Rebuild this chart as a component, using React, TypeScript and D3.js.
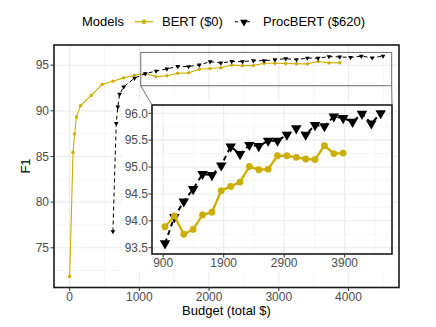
import React from 'react';
import * as d3 from 'd3';

// budgets (total $) and F1
const bertBudget = [0, 48, 71, 96, 155, 310, 465, 620, 775, 930, 1085, 1240, 1395, 1550, 1705, 1860, 2015, 2170, 2325, 2480, 2635, 2790, 2945, 3100, 3255, 3410, 3565, 3720, 3875];
const bertF1 = [71.86, 85.46, 87.46, 89.32, 90.55, 91.69, 92.89, 93.25, 93.61, 93.89, 94.09, 93.75, 93.84, 94.11, 94.16, 94.56, 94.64, 94.72, 95.01, 94.95, 94.96, 95.21, 95.21, 95.18, 95.15, 95.14, 95.4, 95.25, 95.26];
const procBudget = [620, 668, 691, 716, 775, 930, 1085, 1240, 1395, 1550, 1705, 1860, 2015, 2170, 2325, 2480, 2635, 2790, 2945, 3100, 3255, 3410, 3565, 3720, 3875, 4030, 4185, 4340, 4495];
const procF1 = [76.78, 88.63, 90.44, 91.83, 92.63, 93.58, 94.07, 94.36, 94.59, 94.87, 94.85, 95.03, 95.38, 95.24, 95.41, 95.39, 95.49, 95.49, 95.6, 95.72, 95.6, 95.78, 95.76, 95.94, 95.91, 95.84, 95.99, 95.81, 96.0];

const mainXTicks = [0, 1000, 2000, 3000, 4000];
const mainXMinor = [500, 1500, 2500, 3500, 4500];
const mainYTicks = [75, 80, 85, 90, 95];
const mainYMinor = [72.5, 77.5, 82.5, 87.5, 92.5];
const insetXTicks = [900, 1900, 2900, 3900];
const insetXMinor = [1400, 2400, 3400, 4400];
const insetYTicks = [93.5, 94.0, 94.5, 95.0, 95.5, 96.0];
const insetYMinor = [93.75, 94.25, 94.75, 95.25, 95.75];
const insetFrom = 900;
const zoomBudget = [1020, 4620];
const zoomF1 = [92.75, 96.4];

const GOLD = '#CDAD00';
const FONT = '"Liberation Sans", Arial, Helvetica, sans-serif';

const bert = bertBudget.map((b, i) => ({ b, f: bertF1[i] }));
const proc = procBudget.map((b, i) => ({ b, f: procF1[i] }));

const tri = (size: number) => d3.symbol().type(d3.symbolTriangle).size(size)() as string;

export default function App() {
    const x = d3.scaleLinear().domain([-225, 4725]).range([54, 399]);
    const y = d3.scaleLinear().domain([70.65, 97.21]).range([287.5, 45]);

    const ix = d3.scaleLinear().domain([715, 4682]).range([152, 392]);
    const iy = d3.scaleLinear().domain([93.383, 96.154]).range([254, 105]);

    const line = d3.line<{ b: number; f: number }>().x(d => x(d.b)).y(d => y(d.f));
    const iline = d3.line<{ b: number; f: number }>().x(d => ix(d.b)).y(d => iy(d.f));

    const bertIn = bert.filter(d => d.b >= insetFrom);
    const procIn = proc.filter(d => d.b >= insetFrom);

    const [x0, x1] = x.range();
    const [y0, y1] = y.range();
    const [ix0, ix1] = ix.range();
    const [iy0, iy1] = iy.range();

    const zx0 = x(zoomBudget[0]), zx1 = x(zoomBudget[1]);
    const zy0 = y(zoomF1[1]), zy1 = y(zoomF1[0]);

    return (
        <svg width={436} height={327} style={{ position: 'absolute', left: 0, top: 0, background: '#fff' }} fontFamily={FONT}>
            {/* legend */}
            <g>
                <text x={82} y={26.3} fontSize={13} fill="#000">Models</text>
                <line x1={135} x2={153} y1={21.7} y2={21.7} stroke={GOLD} strokeWidth={1.2} />
                <circle cx={144} cy={21.7} r={2.3} fill={GOLD} />
                <text x={162} y={26.3} fontSize={13} fill="#000">BERT ($0)</text>
                <line x1={235} x2={253} y1={21.7} y2={21.7} stroke="#000" strokeWidth={1.1} strokeDasharray="3,3" />
                <path d={tri(26)} transform={`translate(244,22) rotate(180)`} fill="#000" />
                <text x={263} y={26.3} fontSize={13} fill="#000">ProcBERT ($620)</text>
            </g>

            {/* main panel grid */}
            <rect x={x0} y={y1} width={x1 - x0} height={y0 - y1} fill="#fff" />
            {mainXMinor.map(t => <line key={'xm' + t} x1={x(t)} x2={x(t)} y1={y1} y2={y0} stroke="#F2F2F2" strokeWidth={0.6} />)}
            {mainYMinor.map(t => <line key={'ym' + t} x1={x0} x2={x1} y1={y(t)} y2={y(t)} stroke="#F2F2F2" strokeWidth={0.6} />)}
            {mainXTicks.map(t => <line key={'xg' + t} x1={x(t)} x2={x(t)} y1={y1} y2={y0} stroke="#EBEBEB" strokeWidth={1.1} />)}
            {mainYTicks.map(t => <line key={'yg' + t} x1={x0} x2={x1} y1={y(t)} y2={y(t)} stroke="#EBEBEB" strokeWidth={1.1} />)}

            {/* main series */}
            <path d={line(bert) as string} fill="none" stroke={GOLD} strokeWidth={1.1} />
            {bert.map((d, i) => <circle key={'bm' + i} cx={x(d.b)} cy={y(d.f)} r={1.7} fill={GOLD} />)}
            <path d={line(proc) as string} fill="none" stroke="#000" strokeWidth={1} strokeDasharray="4,3" />
            {proc.map((d, i) => <path key={'pm' + i} d={tri(10)} transform={`translate(${x(d.b)},${y(d.f)}) rotate(180)`} fill="#000" />)}

            {/* zoom box */}
            <rect x={zx0} y={zy0} width={zx1 - zx0} height={zy1 - zy0} fill="none" stroke="#6E6E6E" strokeWidth={1} />

            {/* main border + axes */}
            <rect x={x0} y={y1} width={x1 - x0} height={y0 - y1} fill="none" stroke="#1A1A1A" strokeWidth={1.6} />
            {mainXTicks.map(t => (
                <g key={'xt' + t}>
                    <line x1={x(t)} x2={x(t)} y1={y0} y2={y0 + 3.5} stroke="#333" strokeWidth={1} />
                    <text x={x(t)} y={301} fontSize={12} fill="#4D4D4D" textAnchor="middle">{t}</text>
                </g>
            ))}
            {mainYTicks.map(t => (
                <g key={'yt' + t}>
                    <line x1={x0 - 3.5} x2={x0} y1={y(t)} y2={y(t)} stroke="#333" strokeWidth={1} />
                    <text x={49} y={y(t) + 4.3} fontSize={12} fill="#4D4D4D" textAnchor="end">{t}</text>
                </g>
            ))}
            <text x={226.5} y={314.5} fontSize={13} fill="#000" textAnchor="middle">Budget (total $)</text>
            <text transform={`translate(30,166) rotate(-90)`} fontSize={13} fill="#000" textAnchor="middle">F1</text>

            {/* inset */}
            <rect x={122} y={102} width={272} height={171} fill="#fff" />
            {insetXMinor.map(t => <line key={'ixm' + t} x1={ix(t)} x2={ix(t)} y1={iy1} y2={iy0} stroke="#F2F2F2" strokeWidth={0.6} />)}
            {insetYMinor.map(t => <line key={'iym' + t} x1={ix0} x2={ix1} y1={iy(t)} y2={iy(t)} stroke="#F2F2F2" strokeWidth={0.6} />)}
            {insetXTicks.map(t => <line key={'ixg' + t} x1={ix(t)} x2={ix(t)} y1={iy1} y2={iy0} stroke="#EBEBEB" strokeWidth={1.1} />)}
            {insetYTicks.map(t => <line key={'iyg' + t} x1={ix0} x2={ix1} y1={iy(t)} y2={iy(t)} stroke="#EBEBEB" strokeWidth={1.1} />)}

            <path d={iline(procIn) as string} fill="none" stroke="#000" strokeWidth={2} strokeDasharray="5,4" />
            {procIn.map((d, i) => <path key={'pi' + i} d={tri(48)} transform={`translate(${ix(d.b)},${iy(d.f)}) rotate(180)`} fill="#000" />)}
            <path d={iline(bertIn) as string} fill="none" stroke={GOLD} strokeWidth={2.3} />
            {bertIn.map((d, i) => <circle key={'bi' + i} cx={ix(d.b)} cy={iy(d.f)} r={3.4} fill={GOLD} />)}

            <rect x={ix0} y={iy1} width={ix1 - ix0} height={iy0 - iy1} fill="none" stroke="#1A1A1A" strokeWidth={1.6} />
            {insetXTicks.map(t => (
                <g key={'ixt' + t}>
                    <line x1={ix(t)} x2={ix(t)} y1={iy0} y2={iy0 + 3.5} stroke="#333" strokeWidth={1} />
                    <text x={ix(t)} y={267} fontSize={12} fill="#4D4D4D" textAnchor="middle">{t}</text>
                </g>
            ))}
            {insetYTicks.map(t => (
                <g key={'iyt' + t}>
                    <line x1={ix0 - 3.5} x2={ix0} y1={iy(t)} y2={iy(t)} stroke="#333" strokeWidth={1} />
                    <text x={148} y={iy(t) + 4.3} fontSize={12} fill="#4D4D4D" textAnchor="end">{t.toFixed(1)}</text>
                </g>
            ))}

            {/* connectors */}
            <line x1={zx0} y1={zy1} x2={ix0} y2={iy1} stroke="#6E6E6E" strokeWidth={1} />
            <line x1={zx1} y1={zy1} x2={ix1} y2={iy1} stroke="#6E6E6E" strokeWidth={1} />
        </svg>
    );
}
